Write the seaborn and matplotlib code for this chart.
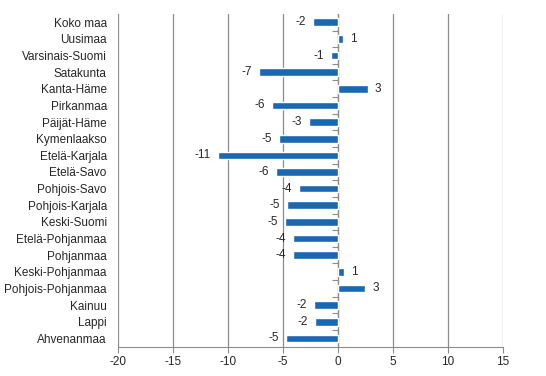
import seaborn as sns
import matplotlib.pyplot as plt
import pandas as pd

# regions and change values
regions = ['Koko maa', 'Uusimaa', 'Varsinais-Suomi', 'Satakunta', 'Kanta-Häme',
           'Pirkanmaa', 'Päijät-Häme', 'Kymenlaakso', 'Etelä-Karjala', 'Etelä-Savo',
           'Pohjois-Savo', 'Pohjois-Karjala', 'Keski-Suomi', 'Etelä-Pohjanmaa',
           'Pohjanmaa', 'Keski-Pohjanmaa', 'Pohjois-Pohjanmaa', 'Kainuu', 'Lappi',
           'Ahvenanmaa']
values = [-2.3, 0.5, -0.6, -7.2, 2.7, -6.0, -2.6, -5.4, -10.9, -5.6,
          -3.5, -4.6, -4.8, -4.1, -4.1, 0.6, 2.5, -2.2, -2.1, -4.7]
value_labels = [-2, 1, -1, -7, 3, -6, -3, -5, -11, -6,
                -4, -5, -5, -4, -4, 1, 3, -2, -2, -5]
x_ticks = [-20, -15, -10, -5, 0, 5, 10, 15]

df = pd.DataFrame({'region': regions, 'value': values})

sns.set_style('white')
plt.rcParams['font.family'] = ['Liberation Sans', 'DejaVu Sans']

fig, ax = plt.subplots(figsize=(5.46, 3.76), dpi=100)
fig.subplots_adjust(left=0.216, right=0.921, top=0.963, bottom=0.078)

sns.barplot(data=df, y='region', x='value', orient='h', color='#1b68b2',
            width=0.46, saturation=1, ax=ax)

ax.bar_label(ax.containers[0], labels=[str(v) for v in value_labels],
             padding=5, fontsize=8.5)

ax.set_xlim(x_ticks[0], x_ticks[-1])
ax.set_ylim(len(regions) - 0.5, -0.5)
ax.set_xticks(x_ticks)
ax.set_xticklabels([str(t) for t in x_ticks])
ax.set_xlabel('')
ax.set_ylabel('')

ax.grid(axis='x', color='#8c8c8c', linewidth=0.9)
ax.set_axisbelow(True)
for side in ['top', 'right', 'left']:
    ax.spines[side].set_visible(False)
ax.spines['bottom'].set_color('#8c8c8c')
ax.tick_params(axis='x', length=4, color='#8c8c8c', labelsize=8.5, pad=3,
               bottom=True, direction='out')
ax.tick_params(axis='y', length=0, labelsize=8.5, pad=8)

# category axis sitting at zero with ticks between categories
zero_pos = (0 - x_ticks[0]) / (x_ticks[-1] - x_ticks[0])
sec = ax.secondary_yaxis(zero_pos)
sec.set_yticks([i + 0.5 for i in range(len(regions) - 1)])
sec.set_yticklabels([])
sec.tick_params(length=4, color='#8c8c8c', direction='in')
sec.spines['left'].set_color('#8c8c8c')

fig.savefig('out.png', dpi=100)
